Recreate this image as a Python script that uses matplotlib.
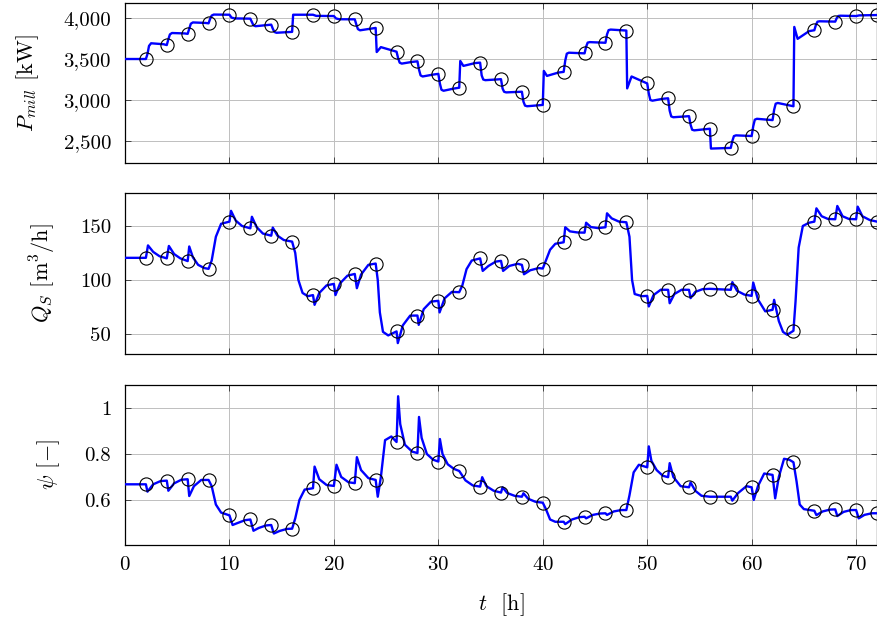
import matplotlib
matplotlib.use("Agg")
import matplotlib.pyplot as plt
from matplotlib.ticker import FuncFormatter, FixedLocator

plt.rcParams['font.family'] = 'serif'
plt.rcParams['font.serif'] = ['cmr10']
plt.rcParams['mathtext.fontset'] = 'cm'
plt.rcParams['axes.unicode_minus'] = False
plt.rcParams['axes.formatter.use_mathtext'] = True

# ---------------- data ----------------
t_samples = [2, 4, 6, 8, 10, 12, 14, 16, 18, 20, 22, 24, 26, 28, 30, 32, 34, 36,
             38, 40, 42, 44, 46, 48, 50, 52, 54, 56, 58, 60, 62, 64, 66, 68, 70, 72]

P_samples = [3500, 3670, 3807, 3935, 4040, 3992, 3919, 3831, 4040, 4024, 3984, 3879,
             3589, 3472, 3319, 3150, 3456, 3254, 3101, 2940, 3343, 3569, 3698, 3847,
             3202, 3021, 2803, 2650, 2416, 2561, 2755, 2924, 3851, 3956, 4024, 4036]

Q_samples = [120.5, 120, 117.7, 110.3, 154, 147.8, 141, 135.5, 86.2, 96.4, 105.6, 115.2,
             52.4, 67.1, 80.7, 88.7, 120.1, 117.7, 114, 110.6, 134.9, 143.8, 148.8, 153.4,
             85.3, 90.9, 90.9, 91.8, 90.9, 85.3, 72.4, 53, 154, 156.2, 156.2, 154]

psi_samples = [0.668, 0.684, 0.690, 0.687, 0.533, 0.515, 0.491, 0.475, 0.651, 0.661, 0.673, 0.687,
               0.852, 0.804, 0.767, 0.726, 0.658, 0.632, 0.614, 0.588, 0.505, 0.527, 0.542, 0.556,
               0.742, 0.699, 0.655, 0.614, 0.614, 0.655, 0.709, 0.764, 0.553, 0.559, 0.556, 0.542]

P_line = [(0, 3500), (2, 3500), (2.15, 3560), (2.3, 3660), (2.5, 3692), (3.7, 3680), (4, 3670),
          (4.15, 3740), (4.3, 3800), (4.5, 3817), (5.7, 3812), (6, 3807),
          (6.15, 3870), (6.3, 3930), (6.5, 3946), (7.7, 3940), (8, 3935),
          (8.15, 3990), (8.3, 4030), (8.5, 4042), (10, 4040),
          (10.2, 4005), (10.5, 3995), (12, 3992),
          (12.15, 3950), (12.3, 3910), (12.5, 3900), (13.5, 3912), (14, 3919),
          (14.15, 3870), (14.3, 3830), (14.5, 3820), (15.7, 3828), (16, 3831),
          (16.1, 4040), (18, 4040),
          (18.3, 4026), (20, 4024),
          (20.2, 3995), (20.5, 3985), (22, 3984),
          (22.15, 3920), (22.3, 3865), (22.5, 3850), (23.5, 3870), (24, 3879),
          (24.1, 3585), (24.5, 3645), (26, 3589),
          (26.15, 3510), (26.3, 3455), (26.5, 3444), (27.5, 3465), (28, 3472),
          (28.15, 3370), (28.3, 3300), (28.5, 3287), (29.5, 3310), (30, 3319),
          (30.15, 3200), (30.3, 3125), (30.5, 3113), (31.5, 3140), (32, 3150),
          (32.1, 3476), (32.4, 3416), (33.5, 3450), (34, 3456),
          (34.15, 3300), (34.3, 3250), (34.5, 3242), (36, 3254),
          (36.15, 3140), (36.3, 3100), (36.5, 3093), (38, 3101),
          (38.15, 2980), (38.3, 2932), (38.5, 2924), (40, 2940),
          (40.1, 3355), (40.4, 3294), (41.5, 3335), (42, 3343),
          (42.15, 3480), (42.3, 3565), (42.5, 3577), (44, 3569),
          (44.15, 3650), (44.3, 3700), (44.5, 3706), (46, 3698),
          (46.15, 3800), (46.3, 3852), (46.5, 3859), (48, 3847),
          (48.08, 3142), (48.5, 3287), (50, 3202),
          (50.15, 3080), (50.3, 3000), (50.5, 2992), (51.5, 3015), (52, 3021),
          (52.15, 2870), (52.3, 2800), (52.5, 2790), (54, 2803),
          (54.15, 2700), (54.3, 2638), (54.5, 2630), (56, 2650),
          (56.1, 2408), (58, 2416),
          (58.15, 2500), (58.3, 2560), (58.5, 2569), (60, 2561),
          (60.15, 2680), (60.3, 2760), (60.5, 2771), (62, 2755),
          (62.15, 2880), (62.3, 2955), (62.5, 2964), (64, 2924),
          (64.08, 3891), (64.4, 3746), (65.5, 3840), (66, 3851),
          (66.15, 3915), (66.3, 3955), (66.5, 3960), (68, 3956),
          (68.15, 4000), (68.3, 4025), (68.5, 4028), (70, 4024),
          (70.3, 4032), (72, 4036)]

Q_line = [(0, 120.5), (2, 120.5), (2.2, 132), (2.7, 126), (3.3, 122), (4, 120),
          (4.2, 131.5), (4.7, 124), (5.3, 120), (6, 117.5),
          (6.15, 131), (6.5, 121), (7.0, 114), (7.6, 111), (8, 110.3),
          (8.3, 118), (8.7, 140), (9.2, 152), (10, 154),
          (10.15, 164), (10.6, 155), (11.2, 150), (12, 147.8),
          (12.15, 158.5), (12.6, 149), (13.2, 143), (14, 141),
          (14.15, 148.5), (14.6, 141), (15.2, 137), (16, 135.5),
          (16.3, 125), (16.6, 100), (17.0, 88), (17.5, 85), (18, 86),
          (18.15, 77), (18.6, 88), (19.3, 95), (20, 96.4),
          (20.15, 86), (20.6, 97), (21.3, 104), (22, 105.6),
          (22.2, 92.4), (22.6, 105), (23.3, 114), (24, 115.2),
          (24.2, 100), (24.4, 70), (24.7, 52), (25.2, 48.7), (26, 52.4),
          (26.12, 41.6), (26.6, 58), (27.3, 67), (28, 67.1),
          (28.12, 58.5), (28.6, 73), (29.3, 80), (30, 80.7),
          (30.12, 70), (30.6, 83), (31.3, 89), (32, 88.7),
          (32.3, 95), (32.7, 110), (33.2, 118), (34, 120),
          (34.25, 108.4), (34.8, 113), (35.5, 117), (36, 117.7),
          (36.2, 108.4), (36.8, 113), (37.6, 115), (38, 114),
          (38.2, 105.3), (38.8, 109), (39.6, 111), (40, 110.6),
          (40.3, 118), (40.7, 128), (41.2, 133.5), (42, 134.9),
          (42.15, 148.8), (42.6, 145), (43.3, 144), (44, 143.8),
          (44.15, 153), (44.6, 149), (45.3, 148), (46, 148.8),
          (46.15, 161.7), (46.6, 157), (47.3, 154), (48, 153.4),
          (48.3, 140), (48.55, 100), (48.8, 87), (49.5, 85), (50, 85.3),
          (50.15, 75.5), (50.6, 86), (51.3, 91), (52, 90.9),
          (52.15, 78.5), (52.6, 87), (53.3, 91), (54, 90.9),
          (54.15, 83.2), (54.6, 89), (55.3, 91.5), (56, 91.8),
          (58, 90.9),
          (58.15, 98), (58.6, 90), (59.3, 86.5), (60, 85.3),
          (60.15, 97.6), (60.6, 82), (61.3, 71), (62, 72.4),
          (62.15, 81.6), (62.6, 62), (63.0, 52), (63.4, 49.3), (64, 53),
          (64.2, 80), (64.5, 130), (64.9, 150), (65.5, 153), (66, 154),
          (66.2, 166.3), (66.7, 159), (67.3, 156.5), (68, 156.2),
          (68.2, 168.5), (68.7, 159), (69.3, 156.5), (70, 156.2),
          (70.15, 167.9), (70.6, 159), (71.3, 155.5), (72, 154)]

psi_line = [(0, 0.668), (2, 0.668), (2.15, 0.636), (2.7, 0.668), (3.4, 0.682), (4, 0.684),
            (4.15, 0.640), (4.7, 0.672), (5.4, 0.688), (6, 0.690),
            (6.15, 0.617), (6.6, 0.660), (7.3, 0.687), (8, 0.687),
            (8.3, 0.66), (8.7, 0.58), (9.2, 0.545), (10, 0.533),
            (10.3, 0.491), (10.8, 0.500), (11.5, 0.512), (12, 0.515),
            (12.3, 0.466), (12.8, 0.478), (13.5, 0.489), (14, 0.491),
            (14.25, 0.454), (14.8, 0.465), (15.5, 0.474), (16, 0.475),
            (16.3, 0.52), (16.7, 0.6), (17.2, 0.645), (18, 0.651),
            (18.15, 0.745), (18.6, 0.69), (19.3, 0.665), (20, 0.661),
            (20.25, 0.753), (20.7, 0.70), (21.4, 0.677), (22, 0.673),
            (22.2, 0.786), (22.6, 0.73), (23.3, 0.695), (24, 0.687),
            (24.2, 0.614), (24.5, 0.70), (24.9, 0.86), (25.5, 0.876), (26, 0.852),
            (26.15, 1.051), (26.35, 0.93), (26.8, 0.84), (27.5, 0.81), (28, 0.804),
            (28.15, 0.961), (28.4, 0.87), (28.9, 0.80), (29.5, 0.775), (30, 0.767),
            (30.15, 0.865), (30.4, 0.80), (30.9, 0.755), (31.5, 0.735), (32, 0.726),
            (32.6, 0.685), (33.3, 0.663), (34, 0.658),
            (34.2, 0.699), (34.6, 0.66), (35.3, 0.64), (36, 0.632),
            (36.15, 0.655), (36.6, 0.63), (37.3, 0.618), (38, 0.614),
            (38.15, 0.629), (38.6, 0.605), (39.3, 0.592), (40, 0.588),
            (40.3, 0.56), (40.7, 0.515), (41.2, 0.505), (42, 0.505),
            (42.15, 0.495), (42.8, 0.515), (43.5, 0.525), (44, 0.527),
            (44.15, 0.52), (44.8, 0.535), (45.5, 0.541), (46, 0.542),
            (46.15, 0.535), (46.8, 0.55), (47.5, 0.556), (48, 0.556),
            (48.3, 0.62), (48.7, 0.72), (49.2, 0.753), (50, 0.742),
            (50.15, 0.833), (50.4, 0.77), (50.9, 0.73), (51.5, 0.705), (52, 0.699),
            (52.15, 0.76), (52.5, 0.70), (53.2, 0.66), (54, 0.655),
            (54.15, 0.676), (54.6, 0.64), (55.2, 0.618), (56, 0.614),
            (58, 0.614),
            (58.15, 0.597), (58.7, 0.63), (59.5, 0.66), (60, 0.655),
            (60.2, 0.60), (60.6, 0.66), (61.2, 0.715), (62, 0.709),
            (62.25, 0.607), (62.6, 0.70), (63.1, 0.779), (63.6, 0.775), (64, 0.764),
            (64.3, 0.68), (64.6, 0.58), (65.0, 0.56), (66, 0.553),
            (66.2, 0.534), (66.8, 0.55), (67.5, 0.558), (68, 0.559),
            (68.2, 0.530), (68.8, 0.548), (69.5, 0.556), (70, 0.556),
            (70.25, 0.520), (70.8, 0.535), (71.5, 0.542), (72, 0.542)]

x_ticks = [0, 10, 20, 30, 40, 50, 60, 70]
P_ticks = [2500, 3000, 3500, 4000]
Q_ticks = [50, 100, 150]
psi_ticks = [0.6, 0.8, 1.0]

# ---------------- figure ----------------
fig = plt.figure(figsize=(8.78, 6.24), dpi=100)
left, width = 125 / 878, 752 / 878
rects = [(left, 1 - 163 / 624, width, 160 / 624),
         (left, 1 - 354 / 624, width, 161 / 624),
         (left, 1 - 545 / 624, width, 160 / 624)]

panels = [
    (P_line, P_samples, P_ticks, (2232, 4183), r'$P_{mill}$ [kW]',
     lambda v, p: f"{int(round(v)):,}"),
    (Q_line, Q_samples, Q_ticks, (31.5, 180.5), r'$Q_S$ [m$^3$/h]',
     lambda v, p: f"{v:g}"),
    (psi_line, psi_samples, psi_ticks, (0.404, 1.1), r'$\psi$ [$-$]',
     lambda v, p: f"{v:g}"),
]

FS = 15
LFS = 16
for i, (line, samples, yt, ylim, ylab, fmt) in enumerate(panels):
    ax = fig.add_axes(rects[i])
    lt = [p[0] for p in line]
    lv = [p[1] for p in line]
    ax.plot(lt, lv, color='#0000ff', lw=1.7, zorder=3)
    ax.plot(t_samples, samples, linestyle='none', marker='o', markersize=9.5,
            markerfacecolor='none', markeredgecolor='black', markeredgewidth=0.8, zorder=4)
    ax.set_xlim(0, 72)
    ax.set_ylim(*ylim)
    ax.xaxis.set_major_locator(FixedLocator(x_ticks))
    ax.yaxis.set_major_locator(FixedLocator(yt))
    ax.yaxis.set_major_formatter(FuncFormatter(fmt))
    ax.grid(True, color='#bfbfbf', lw=0.7)
    ax.set_axisbelow(True)
    ax.tick_params(direction='in', top=True, right=True, length=4, width=0.7,
                   labelsize=FS, color='#444444')
    ax.tick_params(axis='y', pad=10)
    ax.tick_params(axis='x', pad=8)
    for s in ax.spines.values():
        s.set_linewidth(0.9)
    ax.set_ylabel(ylab, fontsize=LFS, labelpad=16)
    if i < 2:
        ax.tick_params(labelbottom=False)
    else:
        ax.set_xlabel(r'$t$  [h]', fontsize=LFS, labelpad=12)

fig.savefig('out.png', dpi=100)
